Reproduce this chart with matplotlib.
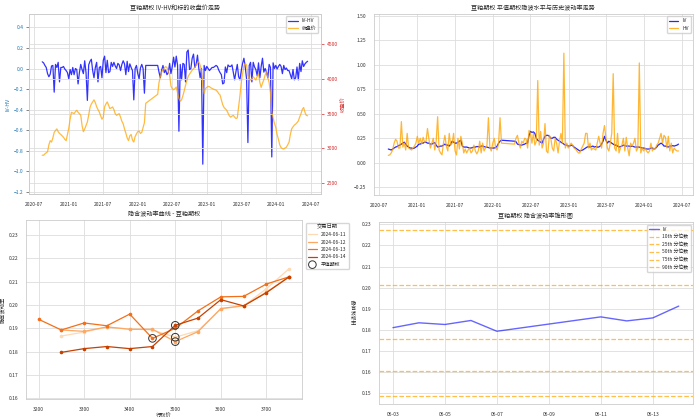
import matplotlib
matplotlib.use('Agg')
import matplotlib.pyplot as plt
import matplotlib.dates as mdates
import numpy as np
import pandas as pd
import seaborn as sns

# ---------------- data ----------------
seg1_start, seg1_end = '2020-08-14', '2022-02-11'
seg2_start, seg2_end = '2022-04-15', '2024-06-14'

iv_seg1 = [0.14,0.135,0.13,0.14,0.15,0.16,0.165,0.175,0.18,0.19,
           0.2,0.21,0.19,0.17,0.16,0.15,0.15,0.145,0.15,0.16,
           0.17,0.19,0.19,0.2,0.2,0.21,0.21,0.2,0.2,0.19,
           0.19,0.2,0.205,0.18,0.16,0.165,0.17,0.17,0.18,0.19,
           0.18,0.18,0.17,0.19,0.22,0.21,0.2,0.2,0.21,0.22,
           0.23,0.17,0.16,0.16,0.16,0.155,0.15,0.15,0.155,0.16,
           0.16,0.165,0.165,0.16,0.17,0.17,0.165,0.16,0.16,0.155,
           0.15,0.15,0.15,0.15,0.155,0.17,0.2,0.22,0.23]
hv_seg1 = [0.075,0.08,0.1,0.13,0.2,0.24,0.22,0.15,0.15,0.42,
           0.16,0.2,0.13,0.3,0.15,0.14,0.13,0.15,0.17,0.2,
           0.27,0.2,0.25,0.19,0.26,0.21,0.22,0.35,0.24,0.15,
           0.2,0.25,0.13,0.22,0.47,0.13,0.1,0.08,0.2,0.28,
           0.17,0.12,0.3,0.18,0.2,0.3,0.12,0.08,0.25,0.14,
           0.27,0.2,0.1,0.14,0.1,0.13,0.15,0.1,0.12,0.18,
           0.12,0.09,0.12,0.22,0.1,0.2,0.12,0.15,0.18,0.46,
           0.15,0.12,0.2,0.25,0.15,0.13,0.2,0.46,0.2]
close_seg1 = [2900,2900,2920,2935,2950,3050,3110,3090,3150,3230,
              3257,3280,3240,3215,3200,3180,3160,3130,3110,3200,
              3290,3420,3520,3510,3500,3530,3549,3520,3500,3480,
              3330,3240,3280,3330,3380,3480,3590,3640,3670,3700,
              3660,3600,3560,3525,3470,3420,3450,3600,3640,3670,
              3620,3573,3585,3597,3560,3500,3476,3490,3500,3450,
              3390,3354,3280,3220,3150,3112,3180,3200,3120,3090,
              3170,3209,3240,3250,3215,3230,3300,3370,3650]

iv_seg2 = [0.22,0.215,0.19,0.185,0.18,0.18,0.185,0.19,0.2,0.2,
           0.28,0.32,0.31,0.315,0.3,0.25,0.23,0.22,0.21,0.2,
           0.24,0.27,0.28,0.28,0.27,0.25,0.25,0.26,0.26,0.24,
           0.23,0.22,0.21,0.2,0.19,0.18,0.18,0.17,0.17,0.18,
           0.175,0.16,0.15,0.14,0.13,0.12,0.125,0.13,0.14,0.15,
           0.16,0.165,0.16,0.165,0.17,0.16,0.165,0.16,0.16,0.17,
           0.19,0.22,0.27,0.23,0.2,0.22,0.21,0.2,0.19,0.18,
           0.18,0.17,0.16,0.165,0.17,0.18,0.175,0.17,0.17,0.17,
           0.165,0.17,0.165,0.16,0.16,0.16,0.16,0.155,0.15,0.15,
           0.145,0.14,0.14,0.14,0.15,0.15,0.14,0.145,0.16,0.18,
           0.19,0.2,0.19,0.17,0.17,0.165,0.16,0.17,0.17,0.175,
           0.17,0.175,0.18,0.19]
hv_seg2 = [0.19,0.25,0.28,0.2,0.15,0.22,0.2,0.25,0.24,0.15,
           0.33,0.3,0.2,0.3,0.18,0.22,0.84,0.18,0.32,0.15,
           0.2,0.4,0.12,0.1,0.28,0.25,0.15,0.12,0.25,0.2,
           0.1,0.22,0.3,0.2,1.12,0.15,0.2,0.15,0.17,0.2,
           0.18,0.15,0.14,0.12,0.1,0.1,0.14,0.17,0.2,0.3,
           0.3,0.15,0.2,0.13,0.15,0.14,0.13,0.2,0.27,0.2,
           0.15,0.3,0.38,0.25,0.15,0.12,0.2,0.3,0.91,0.15,
           0.12,0.3,0.1,0.15,0.18,0.25,0.12,0.26,0.15,0.07,
           0.2,0.17,0.2,0.25,0.12,0.15,1.02,0.1,0.15,0.12,
           0.15,0.12,0.1,0.12,0.2,0.12,0.15,0.14,0.18,0.2,
           0.25,0.3,0.2,0.28,0.26,0.15,0.27,0.12,0.2,0.1,
           0.15,0.13,0.12,0.12]
close_seg2 = [3780,3950,4034,4100,4140,4160,4180,4165,4120,4060,
              3900,3860,3845,3860,3885,3800,3720,3680,3700,3760,
              3830,3910,3980,4040,4070,4100,4130,4150,4170,4200,
              4230,4252,4200,4131,3900,3790,3864,3880,3895,3890,
              3875,3864,3855,3848,3840,3820,3790,3770,3700,3630,
              3590,3570,3550,3510,3470,3450,3465,3476,3450,3430,
              3440,3600,3760,3950,4080,4190,4230,4200,4050,4000,
              3985,4010,4034,4010,3985,4040,4080,3950,3880,3940,
              3990,4060,4107,4020,3950,3800,3520,3440,3360,3300,
              3200,3130,3050,3010,2995,2990,3005,3015,3050,3087,
              3200,3282,3310,3335,3350,3370,3395,3450,3500,3560,
              3590,3520,3476,3470]

strikes = [3200, 3250, 3300, 3350, 3400, 3450, 3500, 3550, 3600, 3650, 3700, 3750]
smile_dates = ['2024-06-11', '2024-06-12', '2024-06-13', '2024-06-14']
smile_iv = {
    '2024-06-11': [np.nan, 0.1867, 0.1884, 0.1905, 0.1897, 0.1893, 0.1862, 0.1890, 0.1983, 0.1996, 0.2070, 0.2156],
    '2024-06-12': [np.nan, 0.1893, 0.1887, 0.1906, 0.1896, 0.1896, 0.1843, 0.1886, 0.1985, 0.1997, 0.2055, 0.2121],
    '2024-06-13': [0.1939, 0.1893, 0.1923, 0.1911, 0.1961, 0.1857, 0.1900, 0.1975, 0.2035, 0.2037, 0.2090, 0.2121],
    '2024-06-14': [np.nan, 0.1797, 0.1813, 0.1822, 0.1813, 0.1822, 0.1913, 0.1944, 0.2023, 0.1996, 0.2053, 0.2121],
}
atm_strike = [3500, 3500, 3450, 3500]
atm_iv = [0.1862, 0.1843, 0.1857, 0.1913]

cone_dates = ['2024-06-03', '2024-06-04', '2024-06-05', '2024-06-06', '2024-06-07',
              '2024-06-11', '2024-06-12', '2024-06-13', '2024-06-14']
cone_iv = [0.1811, 0.1834, 0.1826, 0.1845, 0.1794, 0.1862, 0.1843, 0.1857, 0.1913]
q_labels = ['10th', '25th', '50th', '75th', '90th']
q_values = [0.1489, 0.1605, 0.1759, 0.2013, 0.2271]

# ---------------- style ----------------
sns.set_style('whitegrid')
plt.rcParams['font.family'] = ['Noto Sans CJK SC', 'DejaVu Sans']
plt.rcParams['axes.unicode_minus'] = True
plt.rcParams['axes.edgecolor'] = '#cccccc'
plt.rcParams['axes.linewidth'] = 0.6
plt.rcParams['grid.color'] = '#dddddd'
plt.rcParams['grid.linewidth'] = 0.6
plt.rcParams['xtick.labelsize'] = 3.6
plt.rcParams['ytick.labelsize'] = 3.6
plt.rcParams['xtick.major.pad'] = 2
plt.rcParams['ytick.major.pad'] = 2
plt.rcParams['xtick.color'] = '#333333'
plt.rcParams['ytick.color'] = '#333333'
plt.rcParams['legend.fontsize'] = 3.5
TFS = 4.4
LFS = 3.8

dates = pd.date_range(seg1_start, seg1_end, freq='7D').append(
    pd.date_range(seg2_start, seg2_end, freq='7D'))
iv = np.array(iv_seg1 + iv_seg2)
hv = np.array(hv_seg1 + hv_seg2)
close = np.array(close_seg1 + close_seg2)
ivhv = iv - hv

fig = plt.figure(figsize=(7, 4.19), dpi=100)

# ---- top left ----
ax1 = fig.add_axes([0.0414, 0.537, 0.417, 0.4296])
l1, = ax1.plot(dates, ivhv, color='blue', alpha=0.8, lw=0.9, label='IV-HV')
ax1.set_ylim(-1.22, 0.53)
ax1.set_yticks(np.arange(-1.2, 0.41, 0.2))
ax1.set_ylabel('IV-HV', color='tab:blue', fontsize=LFS, labelpad=2)
ax1.tick_params(axis='y', labelcolor='tab:blue', left=True, length=2, width=0.5, color='#555555')
ax2 = ax1.twinx()
l2, = ax2.plot(dates, close, color='orange', alpha=0.75, lw=0.9, label='收盘价')
ax2.set_ylim(2340, 4940)
ax2.set_yticks([2500, 3000, 3500, 4000, 4500])
ax2.set_ylabel('收盘价', color='tab:red', fontsize=LFS, labelpad=2)
ax2.tick_params(axis='y', labelcolor='tab:red', right=True, length=2, width=0.5, color='tab:red')
ax1.xaxis.set_major_locator(mdates.MonthLocator(bymonth=[1, 7]))
ax1.xaxis.set_major_formatter(mdates.DateFormatter('%Y-%m'))
ax1.set_title('豆粕期权 IV-HV和标的收盘价走势', fontsize=TFS, pad=3)
ax2.legend([l1, l2], ['IV-HV', '收盘价'], loc='upper right', frameon=True)

# ---- top right ----
ax3 = fig.add_axes([0.534, 0.5346, 0.456, 0.432])
ax3.plot(dates, iv, color='blue', alpha=0.85, lw=0.9, label='IV')
ax3.plot(dates, hv, color='orange', alpha=0.8, lw=0.9, label='HV')
ax3.set_ylim(-0.33, 1.52)
ax3.set_yticks(np.arange(-0.25, 1.51, 0.25))
ax3.xaxis.set_major_locator(mdates.MonthLocator(bymonth=[1, 7]))
ax3.xaxis.set_major_formatter(mdates.DateFormatter('%Y-%m'))
ax3.set_title('豆粕期权 平值期权隐波水平与历史波动率走势', fontsize=TFS, pad=3)
ax3.legend(loc='upper right', frameon=True)

# ---- bottom left ----
ax4 = fig.add_axes([0.0371, 0.0477, 0.394, 0.427])
colors = sns.color_palette('Oranges', len(smile_dates))
for d, c in zip(smile_dates, colors):
    ax4.plot(strikes, smile_iv[d], color=c, lw=0.9, label=d)
    ax4.plot(strikes, smile_iv[d], color=c, lw=0, marker='o', ms=1.6)
ax4.scatter(atm_strike, atm_iv, s=30, facecolors='none', edgecolors='#333333',
            linewidths=0.7, label='平值期权', zorder=5)
ax4.set_ylim(0.1597, 0.2364)
ax4.set_xlabel('行权价', fontsize=LFS, labelpad=1)
ax4.set_ylabel('隐含波动率', fontsize=LFS, labelpad=2)
ax4.set_title('隐含波动率曲线 - 豆粕期权', fontsize=TFS, pad=3)
leg = ax4.legend(title='交易日期', loc='upper left', bbox_to_anchor=(1.005, 1.0), frameon=True)
leg.get_title().set_fontsize(3.8)

# ---- bottom right ----
ax5 = fig.add_axes([0.541, 0.0358, 0.449, 0.434])
ax5.plot(pd.to_datetime(cone_dates), cone_iv, color='blue', alpha=0.6, lw=1.0, label='IV')
for ql, qv in zip(q_labels, q_values):
    ax5.axhline(qv, color='orange', ls='--', lw=0.9, alpha=0.7, label=f'{ql} 分位数')
ax5.xaxis.set_major_locator(mdates.DayLocator(bymonthday=[3, 5, 7, 9, 11, 13]))
ax5.xaxis.set_major_formatter(mdates.DateFormatter('%m-%d'))
ax5.set_ylabel('隐\n含\n波\n动\n率', fontsize=LFS, rotation=0, va='center', labelpad=6, linespacing=1.0)
ax5.set_title('豆粕期权 隐含波动率锥形图', fontsize=TFS, pad=3)
ax5.legend(loc='upper right', frameon=True)

fig.savefig('out.png', dpi=100)
